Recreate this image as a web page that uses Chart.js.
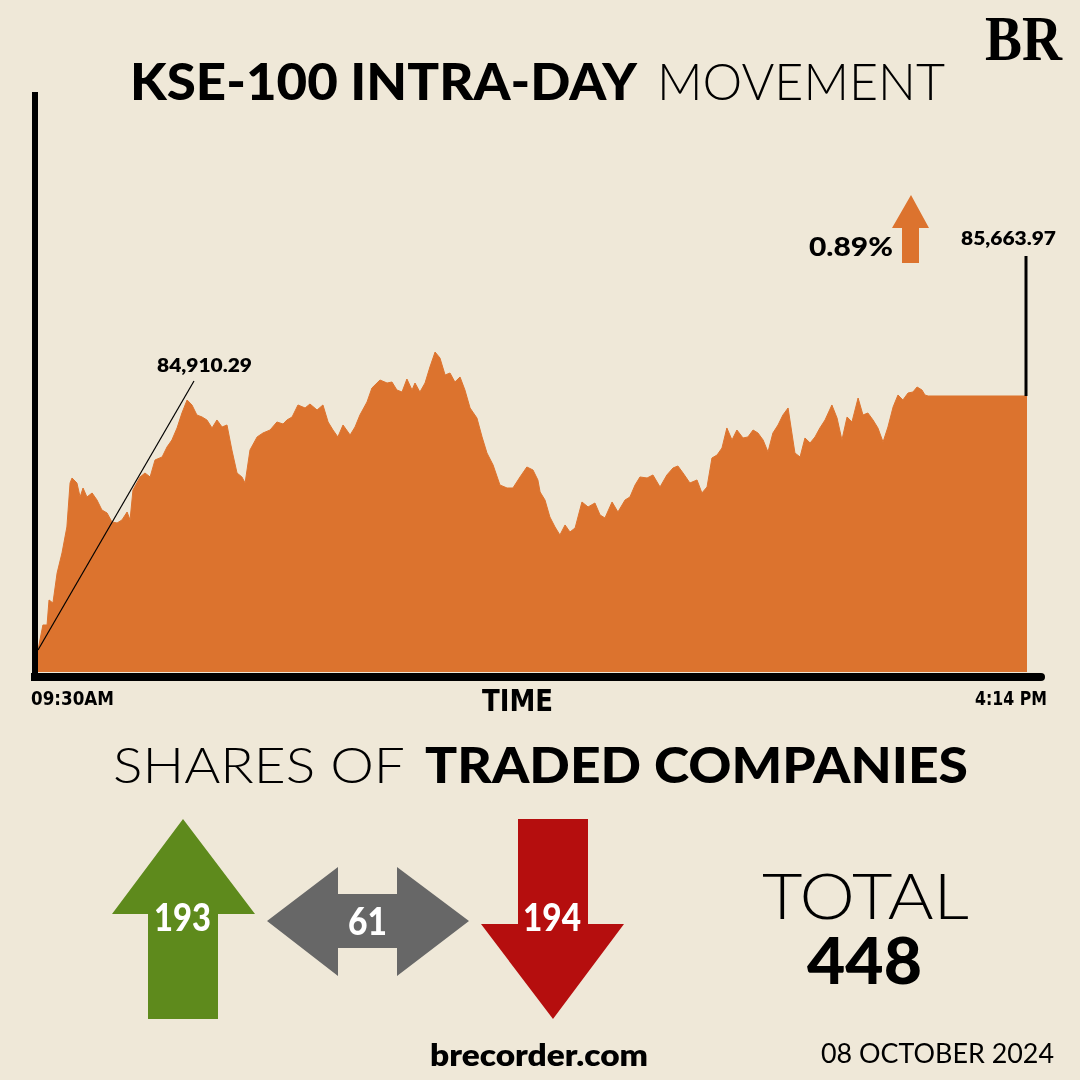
<!DOCTYPE html>
<html>
<head>
<meta charset="utf-8">
<script src="https://cdn.jsdelivr.net/npm/chart.js@4/dist/chart.umd.min.js"></script>
<style>
  html, body { margin:0; padding:0; background:#EFE8D8; }
  #wrap { position:relative; width:1080px; height:1080px; background:#EFE8D8; overflow:hidden; }
  #c { position:absolute; left:0; top:0; }
  #ov { position:absolute; left:0; top:0; pointer-events:none; }
</style>
</head>
<body>
<div id="wrap">
<canvas id="c" width="1080" height="1080"></canvas>
<svg id="ov" width="1080" height="1080" xmlns="http://www.w3.org/2000/svg"></svg>
</div>
<script>
// ---- DATA ----
// minutes after 09:30 AM
const times = [
  0, 2.0, 3.7, 4.5, 6.1, 7.8, 9.8, 11.8, 13.1, 13.9,
  15.9, 17.2, 18.4, 20.0, 22.1, 24.1, 26.1, 28.2, 30.2, 32.3,
  34.3, 36.4, 37.6, 38.8, 41.7, 43.7, 45.8, 47.8, 50.7, 52.7,
  54.7, 56.8, 58.8, 60.9, 62.9, 64.9, 67.0, 69.0, 71.1, 73.1,
  75.2, 77.2, 79.2, 81.3, 83.3, 84.6, 86.6, 89.5, 91.9, 94.8,
  97.6, 100.1, 101.7, 103.8, 106.2, 109.1, 111.1, 114.0, 116.4, 118.5,
  120.5, 122.5, 124.6, 127.5, 129.5, 131.5, 134.4, 136.4, 139.7, 142.6,
  144.6, 146.6, 148.7, 150.7, 152.8, 154.0, 156.0, 158.1, 160.1, 162.2,
  164.2, 166.3, 168.3, 170.3, 172.4, 174.4, 176.5, 179.3, 181.4, 183.4,
  185.9, 188.7, 191.6, 194.0, 196.9, 199.7, 202.2, 204.2, 205.1, 207.1,
  209.1, 211.2, 213.2, 215.3, 217.3, 219.4, 222.2, 224.7, 227.5, 229.6,
  231.6, 234.5, 236.9, 239.8, 241.8, 243.9, 245.9, 248.8, 251.2, 254.1,
  256.9, 259.4, 261.4, 263.5, 266.3, 269.2, 271.2, 273.3, 275.3, 277.4,
  279.4, 281.4, 283.5, 285.5, 288.0, 290.0, 292.1, 294.1, 296.2, 298.2,
  300.2, 302.3, 304.3, 306.4, 309.2, 311.3, 313.3, 315.4, 317.4, 319.4,
  321.5, 324.3, 326.4, 328.4, 330.5, 332.5, 335.0, 337.0, 339.0, 341.1,
  343.1, 345.2, 347.2, 349.3, 351.3, 353.3, 355.4, 357.4, 359.1, 361.1,
  362.3, 363.6, 404
];
const values = [
  84910.29, 84984.5, 84984.5, 85058.7, 85049.8, 85138.8, 85198.2, 85275.3, 85405.9, 85420.7,
  85405.9, 85364.3, 85391.0, 85364.3, 85376.2, 85355.4, 85325.8, 85316.9, 85290.2, 85287.2,
  85296.1, 85319.8, 85296.1, 85385.1, 85423.7, 85435.5, 85423.7, 85474.1, 85483.0, 85512.7,
  85533.5, 85569.1, 85613.6, 85652.1, 85637.3, 85607.6, 85601.7, 85592.8, 85569.1, 85592.8,
  85572.0, 85578.0, 85503.8, 85435.5, 85423.7, 85405.9, 85503.8, 85542.4, 85554.2, 85563.1,
  85586.9, 85580.9, 85592.8, 85601.7, 85637.3, 85628.4, 85640.2, 85622.4, 85637.3, 85586.9,
  85563.1, 85542.4, 85578.0, 85548.3, 85572.0, 85607.6, 85646.2, 85687.7, 85711.4, 85702.5,
  85705.5, 85681.8, 85675.8, 85714.4, 85681.8, 85702.5, 85675.8, 85702.5, 85750.0, 85794.5,
  85776.7, 85726.3, 85732.2, 85705.5, 85720.4, 85681.8, 85628.4, 85598.7, 85542.4, 85494.9,
  85459.3, 85399.9, 85391.0, 85391.0, 85423.7, 85453.3, 85444.4, 85414.8, 85379.2, 85355.4,
  85305.0, 85275.3, 85251.6, 85281.3, 85260.5, 85272.4, 85349.5, 85334.7, 85346.5, 85310.9,
  85302.0, 85349.5, 85319.8, 85355.4, 85364.3, 85399.9, 85423.7, 85420.7, 85429.6, 85394.0,
  85429.6, 85450.4, 85456.3, 85435.5, 85405.9, 85414.8, 85376.2, 85394.0, 85480.0, 85488.9,
  85509.7, 85569.1, 85533.5, 85563.1, 85539.4, 85542.4, 85563.1, 85554.2, 85533.5, 85497.8,
  85554.2, 85578.0, 85607.6, 85628.4, 85494.9, 85483.0, 85539.4, 85524.6, 85542.4, 85569.1,
  85592.8, 85637.3, 85598.7, 85533.5, 85601.7, 85586.9, 85658.0, 85607.6, 85613.6, 85592.8,
  85569.1, 85527.5, 85572.0, 85631.3, 85667.0, 85652.1, 85672.9, 85675.8, 85690.7, 85681.8,
  85667.0, 85663.97, 85663.97
];
const tickLabels = ["09:30AM", "4:14 PM"];
const axisTitle = "TIME";
const openLabel = "84,910.29";
const closeLabel = "85,663.97";
const changeLabel = "0.89%";
const shareCats = ["Advanced", "Unchanged", "Declined"];
const shareCounts = [193, 61, 194];
const totalCount = 448;
const dateLabel = "08 OCTOBER 2024";

// ---- CHART ----
const ORANGE = '#DC732E';
const decor = {
  id: 'decor',
  afterDatasetsDraw(chart) {
    const {ctx, chartArea, scales} = chart;
    const xs = scales.x, ys = scales.y;
    ctx.save();
    ctx.fillStyle = '#000';
    // left axis
    ctx.fillRect(chartArea.left - 6, chartArea.top, 6, chartArea.bottom - chartArea.top + 9);
    // bottom axis with rounded right end
    ctx.fillRect(chartArea.left - 7, chartArea.bottom + 1, chartArea.right - chartArea.left + 21, 8);
    ctx.beginPath();
    ctx.arc(chartArea.right + 14, chartArea.bottom + 5, 4, -Math.PI/2, Math.PI/2);
    ctx.fill();
    // open annotation line
    const x0 = xs.getPixelForValue(times[0]);
    const y0 = ys.getPixelForValue(values[0]);
    ctx.strokeStyle = '#000';
    ctx.lineWidth = 1.2;
    ctx.beginPath();
    ctx.moveTo(x0, y0);
    ctx.lineTo(194, 381);
    ctx.stroke();
    // close annotation line
    const n = times.length - 1;
    const x1 = xs.getPixelForValue(times[n]);
    const y1 = ys.getPixelForValue(values[n]);
    ctx.lineWidth = 3;
    ctx.beginPath();
    ctx.moveTo(x1 - 1, y1);
    ctx.lineTo(x1 - 1, 256);
    ctx.stroke();
    ctx.restore();
  }
};

new Chart(document.getElementById('c'), {
  type: 'line',
  data: {
    datasets: [{
      data: times.map((t, i) => ({x: t, y: values[i]})),
      fill: 'start',
      backgroundColor: ORANGE,
      borderColor: ORANGE,
      borderWidth: 1,
      pointRadius: 0,
      tension: 0
    }]
  },
  options: {
    responsive: false,
    animation: false,
    layout: { padding: { left: 38, top: 92, right: 53, bottom: 408 } },
    plugins: { legend: { display: false }, tooltip: { enabled: false } },
    scales: {
      x: { type: 'linear', min: 0, max: 404, display: false },
      y: { min: 84845, max: 86566, display: false }
    }
  },
  plugins: [decor]
});

// ---- OVERLAY TEXT & ARROWS ----
const NS = 'http://www.w3.org/2000/svg';
const svg = document.getElementById('ov');
function txt(s, x, y, size, weight, family, len, fill, anchor) {
  const t = document.createElementNS(NS, 'text');
  t.setAttribute('x', x); t.setAttribute('y', y);
  t.setAttribute('font-size', size);
  t.setAttribute('font-weight', weight);
  t.setAttribute('font-family', family);
  t.setAttribute('fill', fill || '#000');
  if (anchor) t.setAttribute('text-anchor', anchor);
  if (len) { t.setAttribute('textLength', len); t.setAttribute('lengthAdjust', 'spacingAndGlyphs'); }
  t.textContent = s;
  svg.appendChild(t);
}
function poly(pts, fill) {
  const p = document.createElementNS(NS, 'polygon');
  p.setAttribute('points', pts);
  p.setAttribute('fill', fill);
  svg.appendChild(p);
}
const SANS = 'Lato, "Open Sans", sans-serif';
const COND = '"DejaVu Sans Condensed", "Liberation Sans Narrow", sans-serif';

txt('BR', 985, 60, 64, 700, '"Liberation Serif", "DejaVu Serif", serif', 77);
txt('KSE-100 INTRA-DAY', 130, 100, 52, 900, SANS, 507);
txt('MOVEMENT', 657, 100, 52, 300, SANS, 288);

txt(openLabel, 157, 372, 19, 800, SANS, 95);
txt(changeLabel, 809, 256, 26, 900, SANS, 84);
txt(closeLabel, 961, 245, 18, 800, SANS, 95);
poly('911,195 929,228 919,228 919,263 902,263 902,228 892,228', ORANGE);

txt(tickLabels[0], 31, 705, 19, 700, COND, 83);
txt(axisTitle, 482, 711, 30, 700, COND, 71);
txt(tickLabels[1], 975, 705, 19, 700, COND, 72);

txt('SHARES OF ', 113, 783, 49, 300, SANS, 292);
txt('TRADED COMPANIES', 425, 783, 49, 900, SANS, 543);

poly('183,819 255,914 218,914 218,1019 148,1019 148,914 112,914', '#5E8A1C');
poly('267,921 338,867 338,894 397,894 397,867 469,921 397,976 397,948 338,948 338,976', '#676767');
poly('518,819 588,819 588,924 624,924 553,1019 481,924 518,924', '#B50E0E');
txt(String(shareCounts[0]), 154, 931, 37, 900, SANS, 57, '#fff');
txt(String(shareCounts[1]), 348, 935, 37, 900, SANS, 39, '#fff');
txt(String(shareCounts[2]), 523, 931, 37, 900, SANS, 58, '#fff');

txt('TOTAL', 762, 919, 64, 300, SANS, 207);
txt(String(totalCount), 807, 984, 64, 900, SANS, 115);

txt('brecorder.com', 430, 1066, 30, 800, SANS, 218);
txt(dateLabel, 821, 1063, 26, 400, SANS, 233);
</script>
</body>
</html>
